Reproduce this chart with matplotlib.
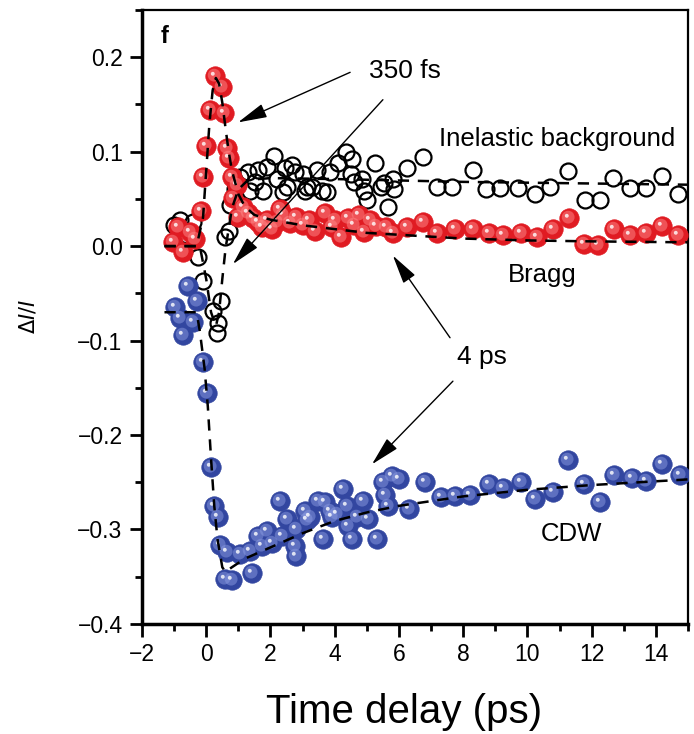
import matplotlib
matplotlib.use("Agg")
import matplotlib.pyplot as plt
from matplotlib.path import Path
from matplotlib.ticker import MultipleLocator, FuncFormatter

plt.rcParams['font.family'] = ['Liberation Sans', 'DejaVu Sans']

# Bragg peak (red spheres)
bragg_t = [-1.03, -0.88, -0.72, -0.5, -0.34, -0.16, -0.09, 0.0, 0.12, 0.28, 0.5, 0.56,
           0.66, 0.72, 0.81, 0.84, 0.97, 1.0, 1.16, 1.3, 1.47, 1.6, 1.75, 1.9, 2.05, 2.2,
           2.3, 2.4, 2.6, 2.8, 3.0, 3.2, 3.4, 3.7, 3.9, 4.0, 4.2, 4.4, 4.6, 4.75, 4.9,
           5.1, 5.3, 5.6, 5.8, 6.25, 6.75, 7.2, 7.75, 8.3, 8.8, 9.25, 9.8, 10.3, 10.8,
           11.3, 11.75, 12.2, 12.7, 13.2, 13.7, 14.2, 14.7]
bragg_v = [0.004, 0.02, -0.006, 0.015, 0.007, 0.037, 0.073, 0.106, 0.144, 0.18, 0.168, 0.141,
           0.104, 0.093, 0.073, 0.051, 0.065, 0.031, 0.041, 0.035, 0.03, 0.025, 0.02, 0.028, 0.018, 0.025,
           0.039, 0.033, 0.024, 0.031, 0.022, 0.028, 0.016, 0.035, 0.02, 0.028, 0.01, 0.03, 0.022, 0.033, 0.015,
           0.028, 0.021, 0.02, 0.014, 0.02, 0.025, 0.014, 0.018, 0.018, 0.014, 0.012, 0.014, 0.01, 0.018,
           0.03, 0.002, 0.001, 0.018, 0.012, 0.014, 0.021, 0.012]

# inelastic background (open circles)
inel_t = [-1.0, -0.82, -0.6, -0.4, -0.25, -0.09, 0.22, 0.34, 0.37, 0.45, 0.59, 0.7, 0.75, 0.9,
          1.06, 1.3, 1.35, 1.53, 1.6, 1.78, 1.9, 2.1, 2.2, 2.4, 2.45, 2.5, 2.67, 2.75, 3.0,
          3.07, 3.15, 3.3, 3.45, 3.6, 3.75, 3.85, 4.1, 4.35, 4.5, 4.55, 4.6, 4.85, 4.9, 5.0,
          5.25, 5.45, 5.55, 5.65, 5.8, 5.85, 6.25, 6.75, 7.2, 7.65, 8.3, 8.7, 9.15, 9.7,
          10.25, 10.7, 11.25, 11.8, 12.25, 12.65, 13.2, 13.7, 14.2, 14.7]
inel_v = [0.022, 0.028, 0.012, 0.025, -0.012, -0.037, -0.069, -0.092, -0.081, -0.058, 0.01, 0.016, 0.044, 0.06,
          0.073, 0.078, 0.058, 0.068, 0.081, 0.058, 0.084, 0.095, 0.071, 0.057, 0.083, 0.063, 0.086, 0.078, 0.076,
          0.058, 0.063, 0.063, 0.081, 0.058, 0.057, 0.078, 0.088, 0.1, 0.076, 0.092, 0.068, 0.071, 0.058, 0.049,
          0.088, 0.063, 0.067, 0.041, 0.071, 0.06, 0.083, 0.094, 0.063, 0.063, 0.081, 0.06, 0.062, 0.062,
          0.055, 0.063, 0.079, 0.049, 0.049, 0.072, 0.062, 0.062, 0.074, 0.055]

# CDW satellite (blue spheres)
cdw_t = [-0.97, -0.81, -0.72, -0.56, -0.41, -0.28, -0.09, 0.03, 0.16, 0.25, 0.37, 0.44, 0.59,
         0.66, 0.81, 1.06, 1.37, 1.43, 1.62, 1.75, 1.9, 2.05, 2.3, 2.36, 2.5, 2.75, 2.78, 2.8,
         3.07, 3.15, 3.23, 3.48, 3.64, 3.7, 3.85, 3.92, 4.07, 4.26, 4.38, 4.42, 4.54, 4.7,
         4.88, 5.04, 5.32, 5.5, 5.56, 5.66, 5.78, 6.0, 6.3, 6.8, 7.3, 7.75, 8.2, 8.8, 9.25,
         9.8, 10.25, 10.8, 11.25, 11.75, 12.25, 12.7, 13.25, 13.7, 14.2, 14.75]
cdw_v = [-0.065, -0.076, -0.094, -0.042, -0.08, -0.058, -0.123, -0.155, -0.234, -0.275, -0.287, -0.316, -0.352,
         -0.324, -0.354, -0.326, -0.323, -0.346, -0.307, -0.318, -0.302, -0.314, -0.27, -0.307, -0.289, -0.318, -0.328, -0.3,
         -0.28, -0.29, -0.287, -0.27, -0.31, -0.271, -0.28, -0.287, -0.284, -0.257, -0.275, -0.296, -0.31, -0.287,
         -0.27, -0.289, -0.31, -0.25, -0.263, -0.275, -0.243, -0.247, -0.278, -0.25, -0.266, -0.265, -0.263, -0.252, -0.256,
         -0.25, -0.268, -0.26, -0.226, -0.252, -0.271, -0.242, -0.245, -0.249, -0.231, -0.242]

# fitted curves (dashed)
bragg_fit_t = [-1.3, -0.3, -0.1, 0.0, 0.1, 0.2, 0.3, 0.4, 0.5, 0.6, 0.7, 0.8, 1.0, 1.2, 1.5,
               2.0, 3.0, 4.0, 5.0, 6.0, 8.0, 10.0, 12.0, 15.0]
bragg_fit_v = [0.0, 0.0, 0.03, 0.08, 0.13, 0.165, 0.178, 0.172, 0.152, 0.125, 0.1, 0.08, 0.055, 0.042, 0.033,
               0.028, 0.022, 0.018, 0.014, 0.012, 0.008, 0.006, 0.005, 0.004]
inel_fit_t = [-1.3, -0.2, 0.0, 0.15, 0.3, 0.4, 0.5, 0.6, 0.8, 1.0, 1.3, 2.0, 4.0, 8.0, 15.0]
inel_fit_v = [0.0, 0.0, -0.035, -0.07, -0.085, -0.07, -0.035, -0.003, 0.04, 0.06, 0.07, 0.072, 0.071, 0.068, 0.065]
cdw_fit_t = [-1.3, -0.3, -0.2, -0.05, 0.05, 0.15, 0.25, 0.35, 0.5, 0.6, 0.8, 1.2, 2.0, 3.0, 4.0,
             5.0, 6.0, 8.0, 10.0, 12.0, 15.0]
cdw_fit_v = [-0.07, -0.07, -0.09, -0.13, -0.17, -0.225, -0.275, -0.31, -0.34, -0.345, -0.34, -0.331, -0.319,
             -0.304, -0.291, -0.282, -0.275, -0.265, -0.258, -0.253, -0.247]


def spot(cx, cy, r):
    # circle marker off-centre; the two lone points fix the marker scale
    c = Path.circle((cx, cy), r)
    verts = [(-0.5, -0.5), (0.5, 0.5)] + list(c.vertices)
    codes = [Path.MOVETO, Path.MOVETO] + list(c.codes)
    return Path(verts, codes)


def spheres(ax, t, v, base, light, ms):
    ax.plot(t, v, ls='none', marker='o', ms=ms, mfc=base, mec=base, mew=0.5, zorder=3)
    ax.plot(t, v, ls='none', marker=spot(-0.07, 0.07, 0.33), ms=ms, mfc=light, mew=0,
            alpha=0.5, zorder=3)
    ax.plot(t, v, ls='none', marker=spot(-0.14, 0.14, 0.1), ms=ms, mfc='white', mew=0,
            alpha=0.8, zorder=3)


fig = plt.figure(figsize=(6.94, 7.34), dpi=100)
ax = fig.add_axes([0.2046, 0.15, 0.7868, 0.8364])

ax.plot(inel_t, inel_v, ls='none', marker='o', ms=11.5, mfc='none', mec='black', mew=1.6, zorder=2)
spheres(ax, bragg_t, bragg_v, '#e01b22', '#ff8a8a', 14)
spheres(ax, cdw_t, cdw_v, '#3246a0', '#8a9ae0', 14)

for ft, fv in [(bragg_fit_t, bragg_fit_v), (inel_fit_t, inel_fit_v), (cdw_fit_t, cdw_fit_v)]:
    ln, = ax.plot(ft, fv, color='black', lw=1.8, zorder=4)
    ln.set_dashes((4.5, 3.5))

ax.set_xlim(-2, 15)
ax.set_ylim(-0.4, 0.25)
ax.xaxis.set_major_locator(MultipleLocator(2))
ax.xaxis.set_minor_locator(MultipleLocator(1))
ax.yaxis.set_major_locator(MultipleLocator(0.1))
ax.yaxis.set_minor_locator(MultipleLocator(0.05))
ax.yaxis.set_major_formatter(FuncFormatter(lambda v, p: f'{v:.1f}'.replace('-', '\u2212')))
ax.tick_params(which='major', direction='out', length=9, width=2, labelsize=16.5, pad=5)
ax.tick_params(which='minor', direction='out', length=5, width=2)
for side in ['left', 'bottom']:
    ax.spines[side].set_linewidth(2.5)
for side in ['top', 'right']:
    ax.spines[side].set_linewidth(1.6)

ax.set_xlabel('Time delay (ps)', fontsize=29)
ax.xaxis.set_label_coords(0.48, -0.112)
ax.set_ylabel(r'$\Delta I/I$', fontsize=15)
ax.yaxis.set_label_coords(-0.19, 0.5)

ax.text(0.042, 0.956, 'f', transform=ax.transAxes, fontsize=17, fontweight='bold',
        ha='center', va='center')

arrow = dict(arrowstyle='-|>,head_length=0.9,head_width=0.22', color='black', lw=1,
             mutation_scale=20, shrinkA=0, shrinkB=0)
ax.annotate('', xy=(0.99, 0.131), xytext=(4.48, 0.184), arrowprops=arrow)
ax.annotate('', xy=(0.83, -0.019), xytext=(5.5, 0.155), arrowprops=arrow)
ax.annotate('', xy=(5.81, -0.01), xytext=(7.59, -0.097), arrowprops=arrow)
ax.annotate('', xy=(5.16, -0.231), xytext=(7.68, -0.143), arrowprops=arrow)

ax.text(6.19, 0.185, '350 fs', fontsize=19, ha='center', va='center')
ax.text(8.59, -0.117, '4 ps', fontsize=19, ha='center', va='center')
ax.text(10.92, 0.113, 'Inelastic background', fontsize=18.5, ha='center', va='center')
ax.text(10.45, -0.031, 'Bragg', fontsize=18.5, ha='center', va='center')
ax.text(11.36, -0.305, 'CDW', fontsize=18.5, ha='center', va='center')

fig.savefig('out.png', dpi=100)
